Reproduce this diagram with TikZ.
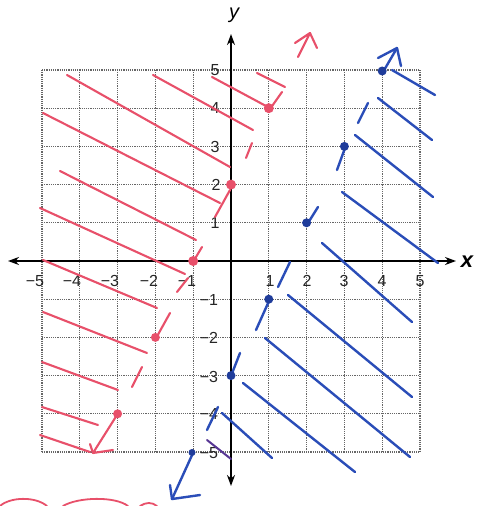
\documentclass[tikz,border=0pt]{standalone}
\usepackage{fontspec}
\setmainfont{Liberation Sans}
\usetikzlibrary{arrows.meta}
\definecolor{penred}{HTML}{E8506A}
\definecolor{penblue}{HTML}{2A4DB8}
\definecolor{dotblue}{HTML}{1F3C9A}
\definecolor{gridgray}{HTML}{666666}
\begin{document}
\begin{tikzpicture}[x=1pt,y=-1pt,
  redpen/.style={penred, line width=2.1pt, line cap=round, line join=round},
  bluepen/.style={penblue, line width=2.4pt, line cap=round, line join=round},
  gridline/.style={gridgray, densely dotted, line width=1.2pt},
  axisline/.style={black, line width=1.8pt, {Stealth[length=11pt,width=8pt]}-{Stealth[length=11pt,width=8pt]}},
  reddot/.style={circle, fill=penred, inner sep=0pt, minimum size=10pt},
  bluedot/.style={circle, fill=dotblue, inner sep=0pt, minimum size=9pt},
  ticklab/.style={font=\fontsize{16}{16}\selectfont, text=black!85, inner sep=0pt}]
\useasboundingbox (0,0) rectangle (477,506);
\fill[white] (0,0) rectangle (477,506);

% grid
\foreach \i in {-5,...,5} {
  \draw[gridline] ({231+37.8*\i},70) -- ({231+37.8*\i},452);
  \draw[gridline] (42,{261-38.2*\i}) -- (420,{261-38.2*\i});
}

% axes
\coordinate (xl) at (8,261); \coordinate (xr) at (456,261);
\coordinate (yt) at (231,34); \coordinate (yb) at (231,486);
\draw[axisline] (xl) -- (xr);
\draw[axisline] (yb) -- (yt);
\node[font=\fontsize{22}{22}\selectfont\bfseries\itshape] (xlab) at (467,262) {x};
\node[font=\fontsize{20}{20}\selectfont\itshape] (ylab) at (234,15) {y};

% tick labels
\node[ticklab] (tm5) at (35,281) {−5};
\node[ticklab] (tm4) at (72,281) {−4};
\node[ticklab] (tm3) at (110,281) {−3};
\node[ticklab] (tm2) at (149,281) {−2};
\node[ticklab] (tm1) at (187,281) {−1};
\node[ticklab] (tp1) at (270,281) {1};
\node[ticklab] (tp2) at (307,281) {2};
\node[ticklab] (tp3) at (344,281) {3};
\node[ticklab] (tp4) at (382,281) {4};
\node[ticklab] (tp5) at (420,281) {5};
\node[ticklab] (vp5) at (215,70) {5};
\node[ticklab] (vp4) at (215,108) {4};
\node[ticklab] (vp3) at (215,147) {3};
\node[ticklab] (vp2) at (216,185) {2};
\node[ticklab] (vp1) at (215,223) {1};
\node[ticklab] (vm1) at (209,300) {−1};
\node[ticklab] (vm2) at (209,338) {−2};
\node[ticklab] (vm3) at (209,377) {−3};
\node[ticklab] (vm4) at (209,414) {−4};
\node[ticklab] (vm5) at (209,453) {−5};

% red shading
\foreach \a/\b/\c/\d in {67/75/230/167, 153/75/253/130, 212/77/266/106, 257/73/285/87,
  43/113/220/203, 60/171/196/240, 40/208/185/274, 43/260/157/308, 43/312/147/353,
  42/362/118/390, 42/407/98/425, 40/435/90/452}
  \draw[redpen] (\a,\b) -- (\c,\d);

% blue shading
\foreach \a/\b/\c/\d in {392/70/435/95, 378/98/432/140, 355/135/433/197, 342/192/438/263,
  322/243/412/322, 288/295/412/397, 265/338/410/457, 243/383/355/472, 222/413/272/458}
  \draw[bluepen] (\a,\b) -- (\c,\d);
\draw[penblue!70!purple, line width=2pt, line cap=round] (207,440) -- (231,459);

% red boundary line y=2x+2 (dashed by hand)
\draw[redpen] (298,57) -- (310,33) -- (295,43);
\draw[redpen] (310,33) -- (317,48);
\draw[redpen] (270,109) -- (282,92);
\draw[redpen] (252,143) -- (246,158);
\draw[redpen] (230,190) -- (215,217);
\draw[redpen] (193,262) -- (202,247);
\draw[redpen] (177,292) -- (188,278);
\draw[redpen] (155,340) -- (170,313);
\draw[redpen] (142,367) -- (132,387);
\draw[redpen] (117,415) -- (93,453) -- (113,450);
\draw[redpen] (93,453) -- (90,444);

% blue boundary line y=2x-3
\draw[bluepen] (383,72) -- (397,48) -- (378,58);
\draw[bluepen] (397,48) -- (401,66);
\draw[bluepen] (368,103) -- (358,123);
\draw[bluepen] (345,148) -- (337,170);
\draw[bluepen] (318,207) -- (308,223);
\draw[bluepen] (290,262) -- (278,287);
\draw[bluepen] (269,301) -- (256,330);
\draw[bluepen] (240,353) -- (231,376);
\draw[bluepen] (218,407) -- (207,430);
\draw[bluepen] (193,453) -- (172,499) -- (200,495);
\draw[bluepen] (172,499) -- (170,485);

% points
\node[reddot] (r1) at (268.8,108.2) {};
\node[reddot] (r2) at (231,184.6) {};
\node[reddot] (r3) at (193.2,261) {};
\node[reddot, minimum size=9pt] (r4) at (155.4,337.4) {};
\node[reddot, minimum size=9pt] (r5) at (117.6,413.8) {};
\node[bluedot] (b1) at (382.2,71) {};
\node[bluedot] (b2) at (344.4,146.4) {};
\node[bluedot] (b3) at (306.6,222.8) {};
\node[bluedot] (b4) at (268.8,299.2) {};
\node[bluedot] (b5) at (231,375.6) {};
\node[bluedot, minimum size=7pt] (b6) at (192,452.5) {};

% red curves at the bottom
\draw[redpen, line width=1.8pt] (0,506) .. controls (10,497) and (35,496) .. (47,506);
\draw[redpen, line width=1.8pt] (63,506) .. controls (78,497) and (115,496) .. (128,506);
\draw[redpen, line width=1.8pt] (140,506) .. controls (146,502) and (152,502) .. (157,506);
\end{tikzpicture}
\end{document}
